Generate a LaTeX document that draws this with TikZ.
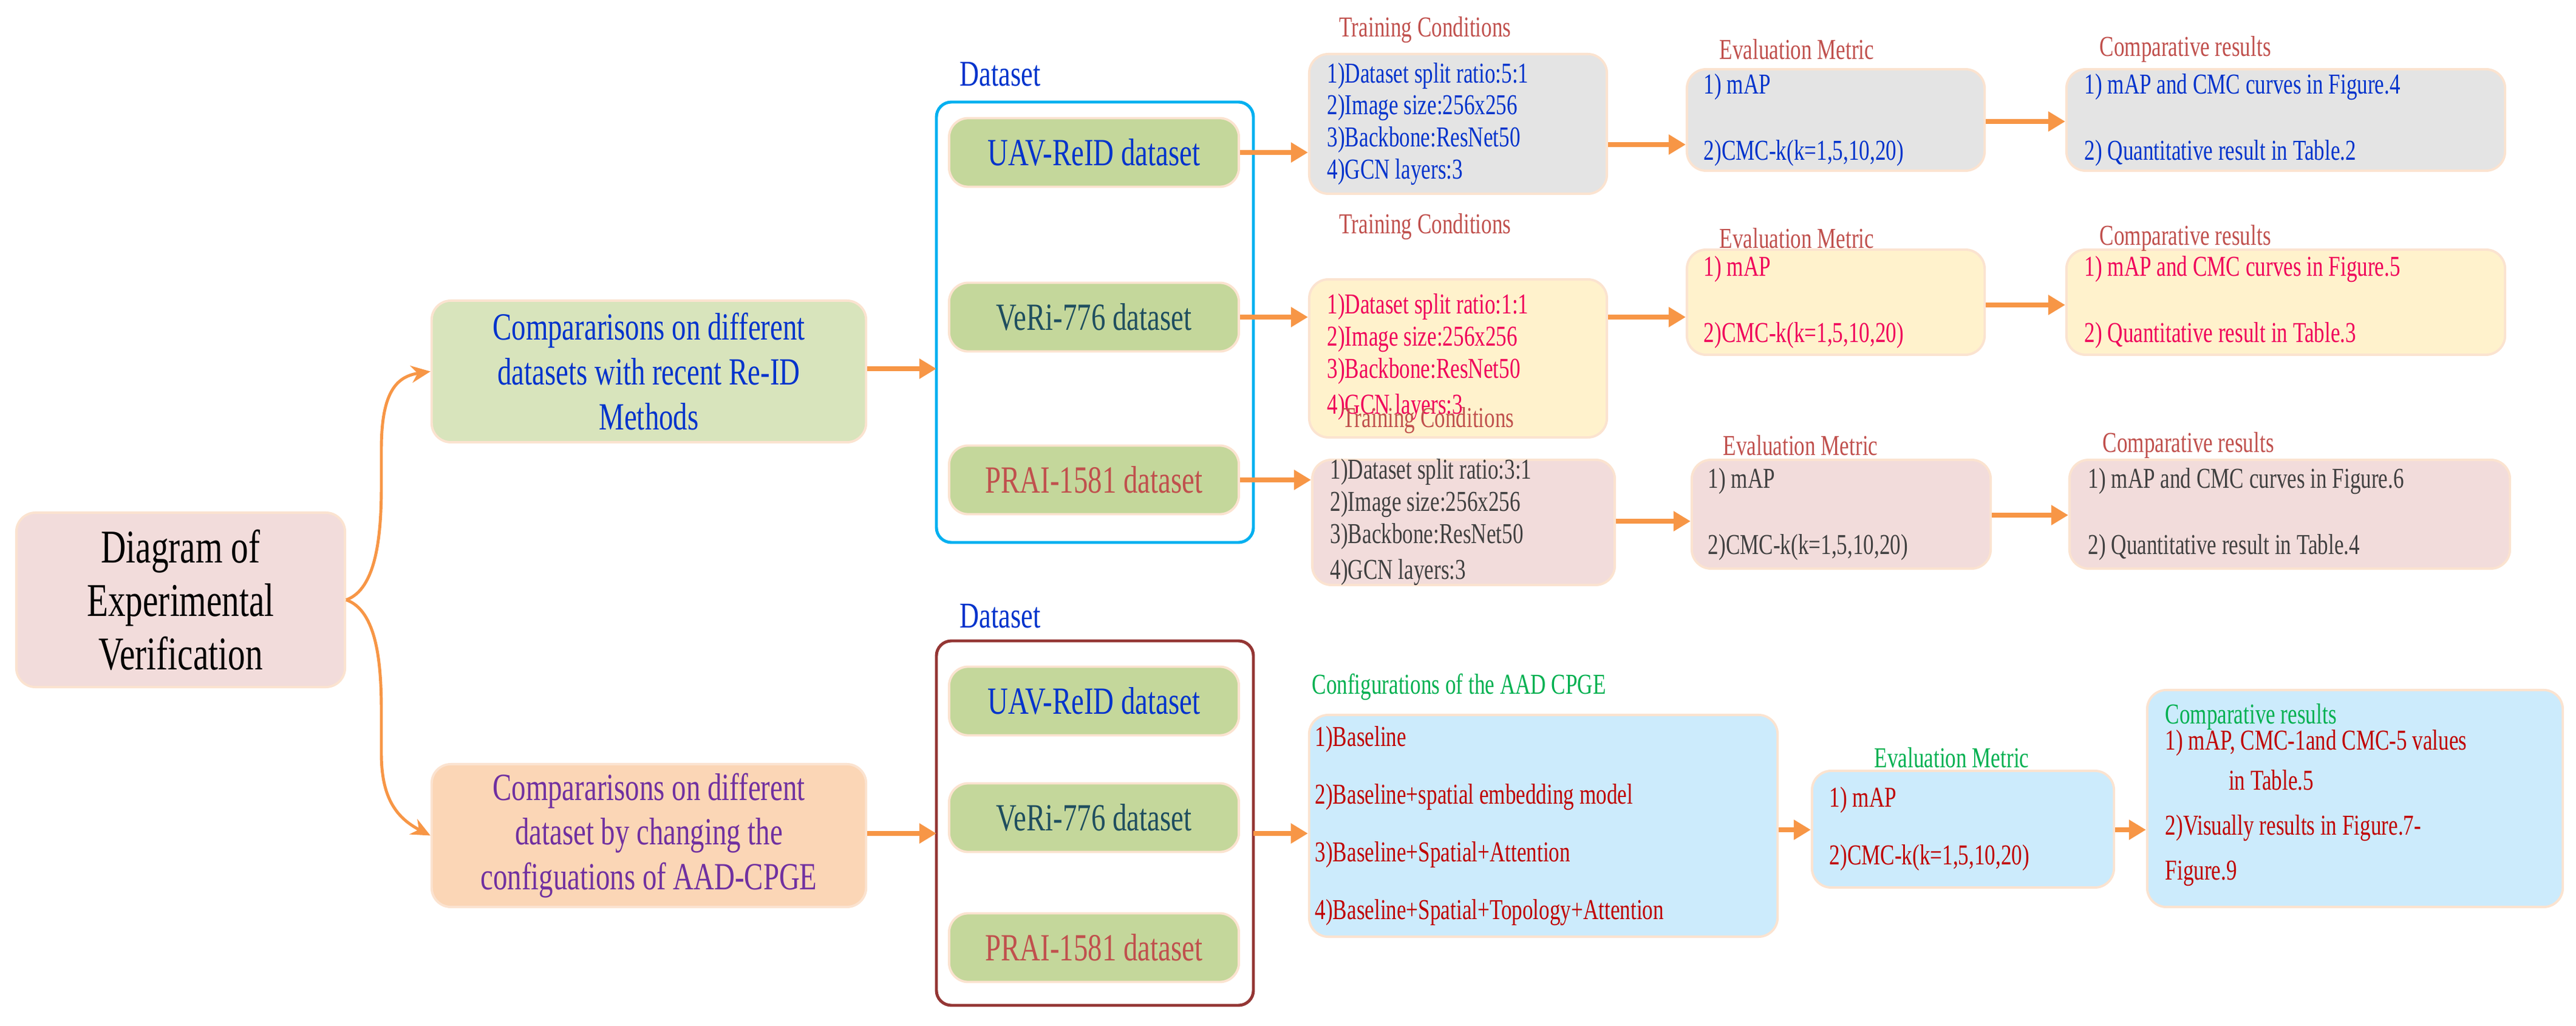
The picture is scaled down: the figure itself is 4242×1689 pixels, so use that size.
\documentclass[tikz,border=0pt]{standalone}
\usepackage{fontspec}
\setmainfont[FakeStretch=0.74]{Liberation Serif}
\usetikzlibrary{arrows.meta}
\newdimen\pu \pu=0.28453pt
\definecolor{arr}{HTML}{F79646}
\definecolor{bord}{HTML}{FBE3D0}
\definecolor{fgray}{HTML}{E4E4E4}
\definecolor{fyel}{HTML}{FFF2CC}
\definecolor{fpink}{HTML}{F2DCDB}
\definecolor{fblue}{HTML}{CCEBFC}
\definecolor{fgreen}{HTML}{D8E4BC}
\definecolor{fitem}{HTML}{C4D79B}
\definecolor{forange}{HTML}{FBD6B6}
\definecolor{tblue}{HTML}{0033CC}
\definecolor{tpink}{HTML}{F0005A}
\definecolor{tgray}{HTML}{404040}
\definecolor{tred}{HTML}{C00000}
\definecolor{tgreen}{HTML}{00B050}
\definecolor{tpurple}{HTML}{7030A0}
\definecolor{ttitle}{HTML}{C0504D}
\definecolor{tteal}{HTML}{1F4E5F}
\definecolor{fr1}{HTML}{00B0F0}
\definecolor{fr2}{HTML}{943634}
\tikzset{
 box/.style={draw=bord,line width=1.1pt,rounded corners=9pt,inner sep=0pt},
 item/.style={box,fill=fitem,minimum width=477\pu,minimum height=113\pu,font=\fontsize{18}{22}\selectfont},
 small/.style={font=\fontsize{13.5}{15}\selectfont},
 title/.style={font=\fontsize{13.5}{15}\selectfont,text=ttitle,inner sep=0pt},
 ar/.style={draw=arr,line width=2.2pt,-{Triangle[length=8pt,width=9pt]}},
 frame/.style={rounded corners=7pt,line width=1.4pt}
}
\begin{document}
\begin{tikzpicture}[x=0.01cm,y=-0.01cm]
\useasboundingbox (0,0) rectangle (4242,1689);
% root
\node[box,fill=fpink,minimum width=541\pu,minimum height=287\pu,align=center,font=\fontsize{22}{25}\selectfont] (root) at (297.5,987.5) {Diagram of\\Experimental\\Verification};
\node[box,fill=fgreen,minimum width=715\pu,minimum height=233\pu,align=center,text=tblue,font=\fontsize{18}{21}\selectfont] (m1) at (1068.5,611.5) {Compararisons on different\\datasets with recent Re-ID\\Methods};
\node[box,fill=forange,minimum width=715\pu,minimum height=235\pu,align=center,text=tpurple,font=\fontsize{18}{21}\selectfont] (m2) at (1068.5,1375.5) {Compararisons on different\\dataset by changing the\\configuations of AAD-CPGE};
\draw[arr,line width=1.4pt,-{Stealth[length=9pt,width=8pt]}] (root.east) .. controls (620,970) and (628,880) .. (628,800) -- (628,740) .. controls (628,650) and (650,620) .. (m1.west);
\draw[arr,line width=1.4pt,-{Stealth[length=9pt,width=8pt]}] (root.east) .. controls (620,1005) and (628,1090) .. (628,1170) -- (628,1240) .. controls (628,1310) and (650,1345) .. (m2.west);
% dataset frames
\draw[frame,draw=fr1] (1542,168) rectangle (2064,893);
\coordinate (fr1w) at (1542,607);
\node[anchor=west,text=tblue,font=\fontsize{17}{20}\selectfont,inner sep=0pt] (d1) at (1580,122) {Dataset};
\node[item,text=tblue] (u1) at (1801.5,251) {UAV-ReID dataset};
\node[item,text=tteal] (v1) at (1801.5,522) {VeRi-776 dataset};
\node[item,text=ttitle] (p1) at (1801.5,790) {PRAI-1581 dataset};
\draw[frame,draw=fr2] (1542,1055) rectangle (2064,1655);
\coordinate (fr2w) at (1542,1372);
\coordinate (fr2e) at (2064,1372);
\node[anchor=west,text=tblue,font=\fontsize{17}{20}\selectfont,inner sep=0pt] (d2) at (1580,1014) {Dataset};
\node[item,text=tblue] (u2) at (1801.5,1154) {UAV-ReID dataset};
\node[item,text=tteal] (v2) at (1801.5,1346) {VeRi-776 dataset};
\node[item,text=ttitle] (p2) at (1801.5,1560) {PRAI-1581 dataset};
\draw[ar] (m1.east |- fr1w) -- (fr1w);
\draw[ar] (m2.east |- fr2w) -- (fr2w);
% row 1
\node[box,fill=fgray,minimum width=490\pu,minimum height=230\pu] (t1) at (2401,204) {};
\node[text=tblue,small,align=left,anchor=west,inner sep=0pt] at (2185,204) {1)Dataset split ratio:5:1\\2)Image size:256x256\\3)Backbone:ResNet50\\4)GCN layers:3};
\node[box,fill=fgray,minimum width=490\pu,minimum height=167\pu] (e1) at (3023,197.5) {};
\node[text=tblue,small,align=left,anchor=west,inner sep=0pt] at (2805,197.5) {1) mAP\\[16pt]2)CMC-k(k=1,5,10,20)};
\node[box,fill=fgray,minimum width=722\pu,minimum height=167\pu] (c1) at (3764,197.5) {};
\node[text=tblue,small,align=left,anchor=west,inner sep=0pt] at (3432,197.5) {1) mAP and CMC curves in Figure.4\\[16pt]2) Quantitative result in Table.2};
\node[title,anchor=west] at (2205,49) {Training Conditions};
\node[title] at (2959,81) {Evaluation Metric};
\node[title,anchor=west] at (3457,81) {Comparative results};
% row 2
\node[box,fill=fyel,minimum width=490\pu,minimum height=260\pu] (t2) at (2401,590) {};
\node[text=tpink,small,align=left,anchor=west,inner sep=0pt] at (2185,588) {1)Dataset split ratio:1:1\\2)Image size:256x256\\3)Backbone:ResNet50\\[2pt]4)GCN layers:3};
\node[box,fill=fyel,minimum width=490\pu,minimum height=173\pu] (e2) at (3023,497.5) {};
\node[text=tpink,small,align=left,anchor=west,inner sep=0pt] at (2805,497.5) {1) mAP\\[16pt]2)CMC-k(k=1,5,10,20)};
\node[box,fill=fyel,minimum width=722\pu,minimum height=173\pu] (c2) at (3764,497.5) {};
\node[text=tpink,small,align=left,anchor=west,inner sep=0pt] at (3432,497.5) {1) mAP and CMC curves in Figure.5\\[16pt]2) Quantitative result in Table.3};
\node[title,anchor=west] at (2205,373) {Training Conditions};
\node[title] at (2959,392) {Evaluation Metric};
\node[title,anchor=west] at (3457,392) {Comparative results};
% row 3
\node[box,fill=fpink,minimum width=498\pu,minimum height=206\pu] (t3) at (2410,860) {};
\node[text=tgray,small,align=left,anchor=west,inner sep=0pt] at (2190,860) {1)Dataset split ratio:3:1\\2)Image size:256x256\\3)Backbone:ResNet50\\[2pt]4)GCN layers:3};
\node[box,fill=fpink,minimum width=492\pu,minimum height=179\pu] (e3) at (3032,846.5) {};
\node[text=tgray,small,align=left,anchor=west,inner sep=0pt] at (2812,846.5) {1) mAP\\[16pt]2)CMC-k(k=1,5,10,20)};
\node[box,fill=fpink,minimum width=725\pu,minimum height=179\pu] (c3) at (3770.5,846.5) {};
\node[text=tgray,small,align=left,anchor=west,inner sep=0pt] at (3438,846.5) {1) mAP and CMC curves in Figure.6\\[16pt]2) Quantitative result in Table.4};
\node[title,anchor=west] at (2210,692) {Training Conditions};
\node[title] at (2965,733) {Evaluation Metric};
\node[title,anchor=west] at (3462,733) {Comparative results};
% bottom row
\node[box,fill=fblue,minimum width=771\pu,minimum height=365\pu] (cf) at (2541.5,1359.5) {};
\node[text=tred,small,align=left,anchor=west,inner sep=0pt] at (2165,1359.5) {1)Baseline\\[12pt]2)Baseline+spatial embedding model\\[12pt]3)Baseline+Spatial+Attention\\[12pt]4)Baseline+Spatial+Topology+Attention};
\node[box,fill=fblue,minimum width=497\pu,minimum height=192\pu] (eb) at (3232.5,1365) {};
\node[text=tred,small,align=left,anchor=west,inner sep=0pt] at (3012,1365) {1) mAP\\[12pt]2)CMC-k(k=1,5,10,20)};
\node[box,fill=fblue,minimum width=684\pu,minimum height=357\pu] (cb) at (3878,1314.5) {};
\node[text=tred,small,align=left,anchor=west,inner sep=0pt] at (3565,1330) {1) mAP, CMC-1and CMC-5 values\\[4pt]\hspace*{2.2em}in Table.5\\[6pt]2)Visually results in Figure.7-\\[6pt]Figure.9};
\node[title,text=tgreen,anchor=west] at (2160,1131) {Configurations of the AAD CPGE};
\node[title,text=tgreen] at (3214,1247) {Evaluation Metric};
\node[title,text=tgreen,anchor=west] at (3565,1180) {Comparative results};
% arrows
\draw[ar] (u1.east) -- (t1.west |- u1.east);
\draw[ar] (v1.east) -- (t2.west |- v1.east);
\draw[ar] (p1.east) -- (t3.west |- p1.east);
\draw[ar] (fr2e) -- (cf.west |- fr2e);
\draw[ar] (t1.east |- 0,238) -- (e1.west |- 0,238);
\draw[ar] (e1.east |- 0,200) -- (c1.west |- 0,200);
\draw[ar] (t2.east |- 0,522) -- (e2.west |- 0,522);
\draw[ar] (e2.east |- 0,502) -- (c2.west |- 0,502);
\draw[ar] (t3.east |- 0,858) -- (e3.west |- 0,858);
\draw[ar] (e3.east |- 0,848) -- (c3.west |- 0,848);
\draw[ar] (cf.east |- 0,1366) -- (eb.west |- 0,1366);
\draw[ar] (eb.east |- 0,1366) -- (cb.west |- 0,1366);
\end{tikzpicture}
\end{document}
